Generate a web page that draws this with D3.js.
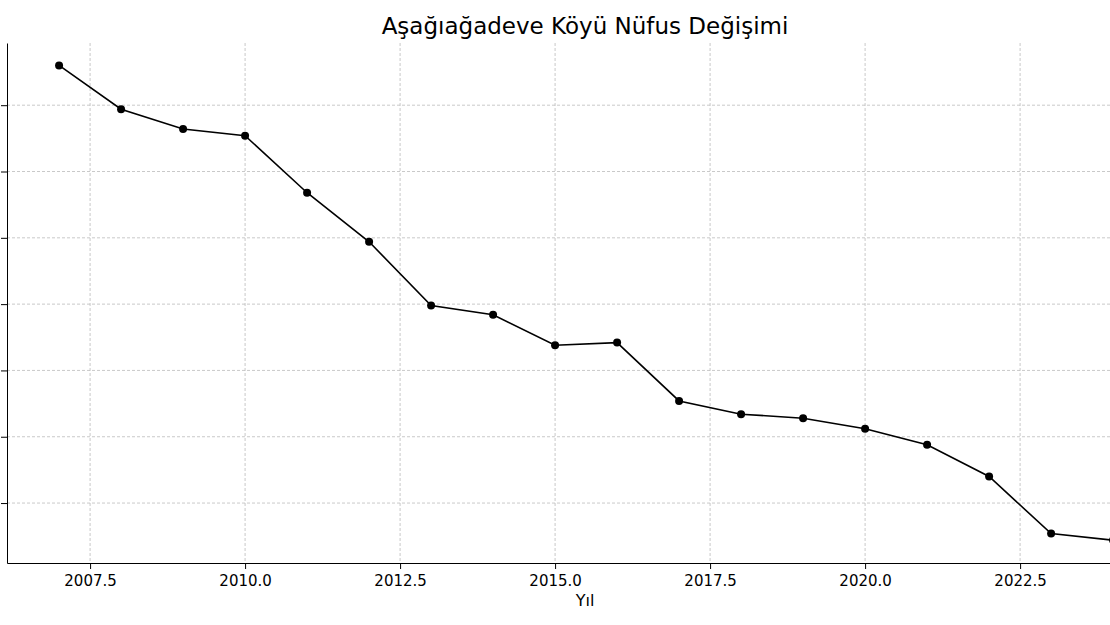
<!DOCTYPE html>
<html><head><meta charset="utf-8">
<script src="https://cdn.jsdelivr.net/npm/d3@7"></script>
<style>body{margin:0;background:#fff}svg{display:block;font-family:"DejaVu Sans",sans-serif}</style>
</head><body><svg id="c" width="1110" height="625"></svg>
<script>
const years = [2007,2008,2009,2010,2011,2012,2013,2014,2015,2016,2017,2018,2019,2020,2021,2022,2023,2024];
const population = [580,547,532,527,484,447,399,392,369,371,327,317,314,306,294,270,227,222];
const xTicks = [2007.5,2010,2012.5,2015,2017.5,2020,2022.5];
const yTicks = [250,300,350,400,450,500,550];

const svg = d3.select("#c");
const m = {l:7, r:0, t:43, b:62};
const W = 1110, H = 625;
const x = d3.scaleLinear().domain([2006.16, 2023.95]).range([m.l, W - m.r]);
const y = d3.scaleLinear().domain([204.8, 596.9]).range([H - m.b, m.t]);

const grid = svg.append("g").attr("stroke", "#bbb").attr("stroke-dasharray", "3,2").attr("stroke-width", 0.8);
xTicks.forEach(t => grid.append("line").attr("x1", x(t)).attr("x2", x(t)).attr("y1", m.t).attr("y2", H - m.b));
yTicks.forEach(t => grid.append("line").attr("x1", m.l).attr("x2", W).attr("y1", y(t)).attr("y2", y(t)));

const xa = svg.append("g").attr("transform", `translate(0,${H - m.b})`)
  .call(d3.axisBottom(x).tickValues(xTicks).tickFormat(d3.format(".1f")).tickSizeOuter(0));
xa.attr("font-size", null).attr("font-family", null);
xa.selectAll("text").style("font-size", "15px").attr("fill", "#000").attr("dy", "0.95em");
const ya = svg.append("g").attr("transform", `translate(${m.l},0)`)
  .call(d3.axisLeft(y).tickValues(yTicks).tickFormat("").tickSizeOuter(0));
svg.selectAll(".domain").attr("stroke", "#000");

svg.append("path").datum(years.map((d, i) => [d, population[i]]))
  .attr("fill", "none").attr("stroke", "#000").attr("stroke-width", 1.6)
  .attr("d", d3.line().x(d => x(d[0])).y(d => y(d[1])));
svg.selectAll("circle.p").data(years).join("circle")
  .attr("cx", d => x(d)).attr("cy", (d, i) => y(population[i])).attr("r", 4).attr("fill", "#000");

svg.append("text").attr("x", 585).attr("y", 34).attr("text-anchor", "middle").style("font-size", "23px").text("Aşağıağadeve Köyü Nüfus Değişimi");
svg.append("text").attr("x", 585).attr("y", 606).attr("text-anchor", "middle").style("font-size", "16px").text("Yıl");
</script></body></html>
